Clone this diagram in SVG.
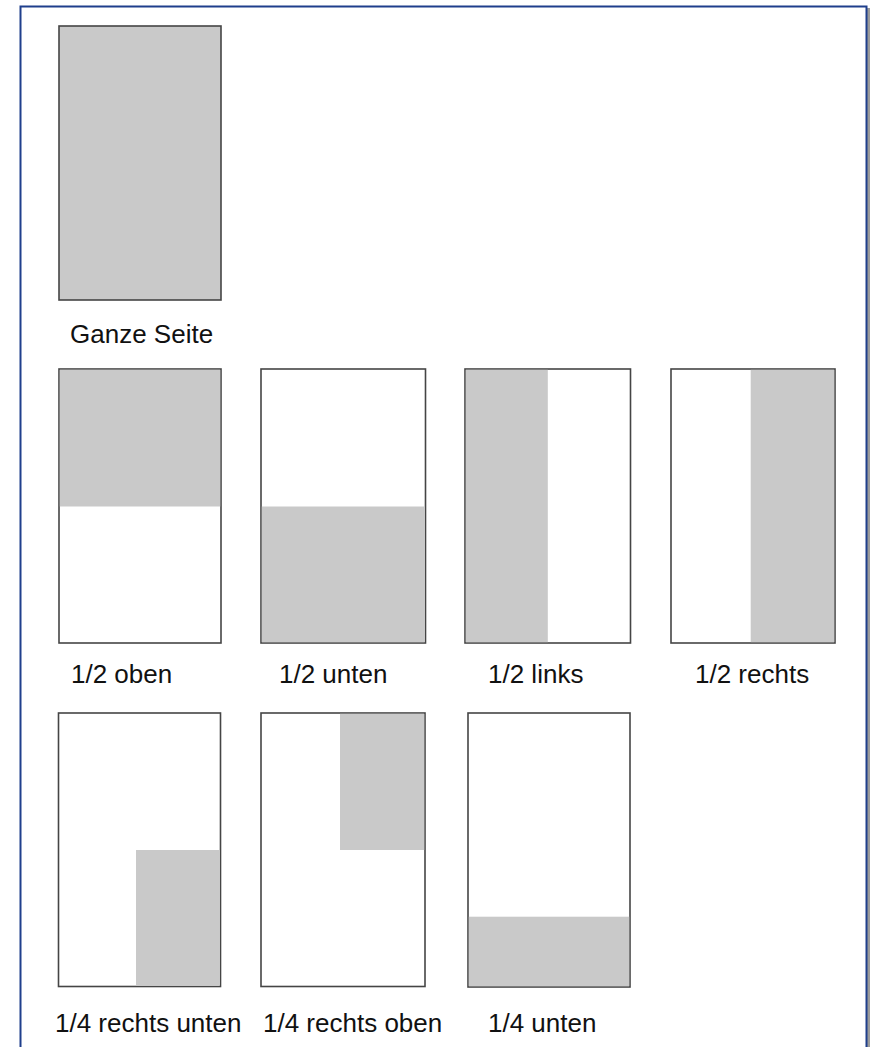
<svg xmlns="http://www.w3.org/2000/svg" width="873" height="1047" viewBox="0 0 873 1047">
<style>
.page{fill:#fff;stroke:#454545;stroke-width:1.6}
.fill{fill:#c9c9c9}
.lbl{font-family:"Liberation Sans",Arial,sans-serif;font-size:26px;fill:#111}
</style>
<rect width="873" height="1047" fill="#fff"/>
<g id="frame">
<line x1="868.5" y1="8" x2="868.5" y2="1047" stroke="#9a9a9a" stroke-width="3"/>
<polyline points="20.5,1047 20.5,6.5 866.5,6.5 866.5,1047" fill="none" stroke="#1f3f8c" stroke-width="2"/>
</g>
<g id="ganze-seite">
<rect class="page" x="59" y="26" width="162" height="274" style="fill:#c9c9c9"/>
<text class="lbl" x="70" y="343">Ganze Seite</text>
</g>
<g id="halb-oben">
<rect class="page" x="59" y="369" width="162" height="274"/>
<rect class="fill" x="59.8" y="369.8" width="160.4" height="136.7"/>
<text class="lbl" x="71" y="683">1/2 oben</text>
</g>
<g id="halb-unten">
<rect class="page" x="261" y="369" width="164.5" height="274"/>
<rect class="fill" x="261.8" y="506.5" width="162.9" height="135.7"/>
<text class="lbl" x="279" y="683">1/2 unten</text>
</g>
<g id="halb-links">
<rect class="page" x="465" y="369" width="165.5" height="274"/>
<rect class="fill" x="465.8" y="369.8" width="82" height="272.4"/>
<text class="lbl" x="488" y="683">1/2 links</text>
</g>
<g id="halb-rechts">
<rect class="page" x="671" y="369" width="164" height="274"/>
<rect class="fill" x="750.7" y="369.8" width="83.5" height="272.4"/>
<text class="lbl" x="695" y="683">1/2 rechts</text>
</g>
<g id="viertel-rechts-unten">
<rect class="page" x="58.5" y="713" width="162" height="273.5"/>
<rect class="fill" x="136" y="850" width="83.7" height="135.7"/>
<text class="lbl" x="55" y="1032">1/4 rechts unten</text>
</g>
<g id="viertel-rechts-oben">
<rect class="page" x="261" y="713" width="164" height="273.5"/>
<rect class="fill" x="340" y="713.8" width="84.2" height="136.2"/>
<text class="lbl" x="263" y="1032">1/4 rechts oben</text>
</g>
<g id="viertel-unten">
<rect class="page" x="468" y="713" width="162" height="274"/>
<rect class="fill" x="468.8" y="916.7" width="160.4" height="69.5"/>
<text class="lbl" x="488" y="1032">1/4 unten</text>
</g>
<g id="connectors"/>
</svg>
